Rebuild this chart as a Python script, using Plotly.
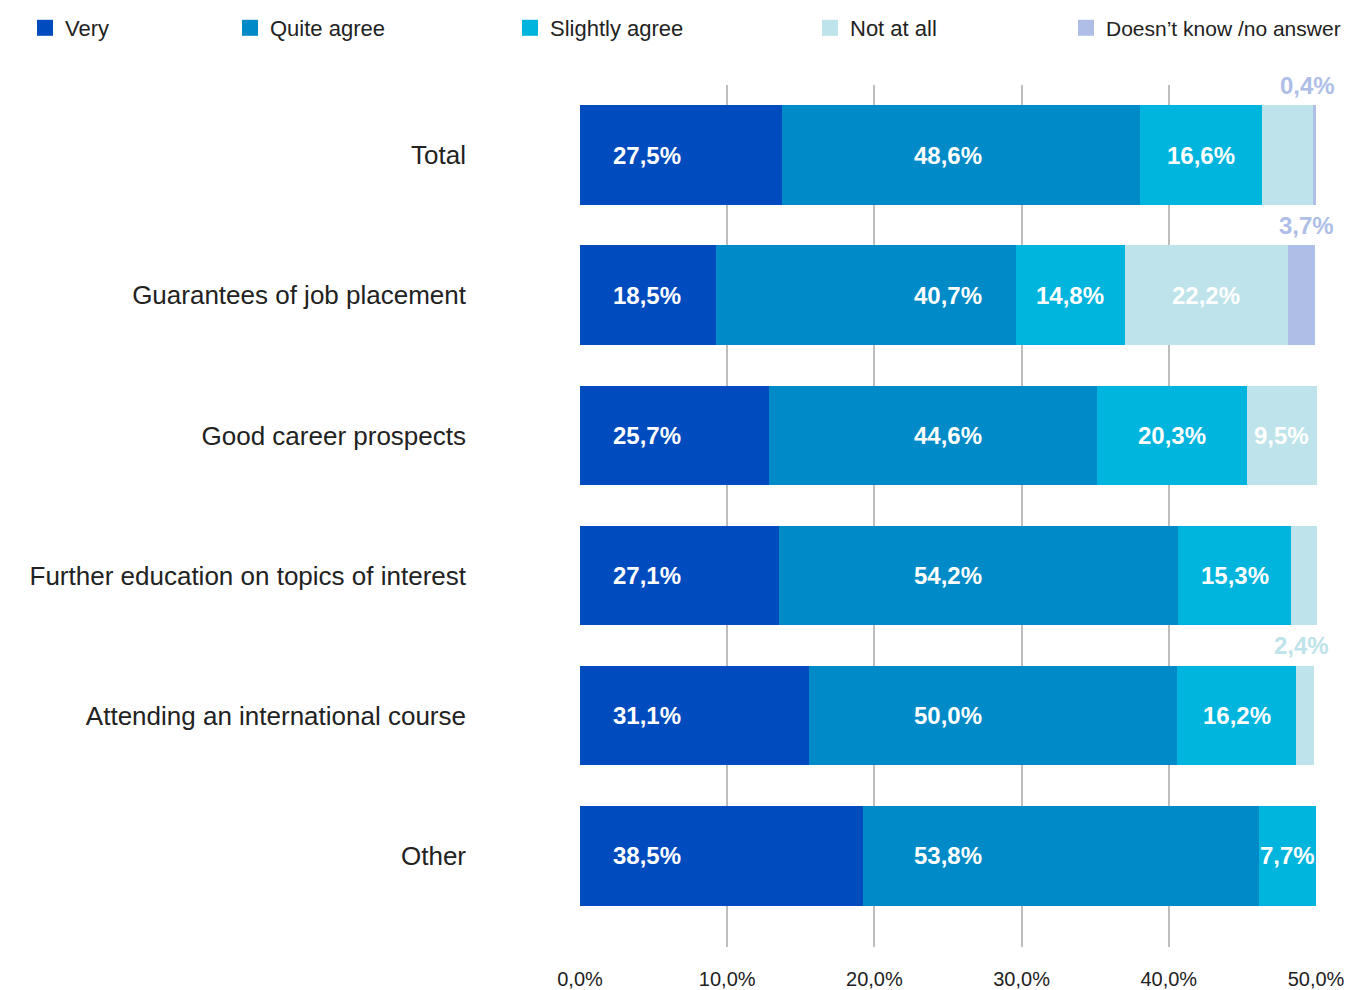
import plotly.graph_objects as go

categories = ["Total", "Guarantees of job placement", "Good career prospects",
              "Further education on topics of interest", "Attending an international course", "Other"]
series_names = ["Very", "Quite agree", "Slightly agree", "Not at all", "Doesn’t know /no answer"]
very = [27.5, 18.5, 25.7, 27.1, 31.1, 38.5]
quite_agree = [48.6, 40.7, 44.6, 54.2, 50.0, 53.8]
slightly_agree = [16.6, 14.8, 20.3, 15.3, 16.2, 7.7]
not_at_all = [6.9, 22.2, 9.5, 3.9, 2.4, 0.0]      # Total value estimated (unlabelled in source)
dont_know = [0.4, 3.7, 0.0, 0.0, 0.0, 0.0]
not_at_all_labelled = [False, True, True, True, True, False]
dont_know_labelled = [True, True, False, False, False, False]
tick_vals = [0, 20, 40, 60, 80, 100]
tick_text = ["0,0%", "10,0%", "20,0%", "30,0%", "40,0%", "50,0%"]

colors = ["#004BBE", "#008BC8", "#00B5DD", "#BEE3EA", "#AEBEE7"]
FONT = "Liberation Sans, Arial, sans-serif"
# the page body margin is removed by a post script, so figure pixels == page pixels
OFF = 0
W, H = 1348, 990
ML, MT = 579, 85
PW, PH = 738, 862
MR = W - ML - PW
MB = H - MT - PH
XPAD = 0.136  # one pixel of padding so the 0 and 100 gridlines are drawn

def fmt(v):
    return f"{v:.1f}".replace(".", ",") + "%"

data = [very, quite_agree, slightly_agree, not_at_all, dont_know]

fig = go.Figure()
for name, vals, col in zip(series_names, data, colors):
    fig.add_trace(go.Bar(y=categories, x=vals, orientation="h", name=name,
                         marker=dict(color=col, line=dict(width=0)),
                         showlegend=False, hoverinfo="x+y+name"))

# legend proxies, each in its own legend for free placement (page pixel of item start)
legend_left_px = [25, 230, 510, 810, 1066]
legend_sizes = [22, 22, 22, 22, 21]
legend_keys = ["legend", "legend2", "legend3", "legend4", "legend5"]
for name, col, key in zip(series_names, colors, legend_keys):
    fig.add_trace(go.Scatter(x=[None], y=[None], mode="markers", name=name,
                             marker=dict(symbol="square", size=16, color=col),
                             legend=key, showlegend=True, hoverinfo="skip"))

legend_layout = {}
for key, px, fs in zip(legend_keys, legend_left_px, legend_sizes):
    legend_layout[key] = dict(x=(px - OFF - ML) / PW, xanchor="left",
                              y=1 + (MT - (28 - OFF)) / PH, yanchor="middle",
                              orientation="h", bgcolor="rgba(0,0,0,0)",
                              font=dict(family=FONT, size=fs, color="#222222"))

LBL = 24
annotations = []
very_label_x = 9.1
quite_label_x = 50.0
for i, cat in enumerate(categories):
    annotations.append(dict(x=very_label_x, y=cat, text=f"<b>{fmt(very[i])}</b>", showarrow=False,
                            font=dict(family=FONT, size=LBL, color="white")))
    annotations.append(dict(x=quite_label_x, y=cat, text=f"<b>{fmt(quite_agree[i])}</b>", showarrow=False,
                            font=dict(family=FONT, size=LBL, color="white")))
    start = very[i] + quite_agree[i]
    annotations.append(dict(x=start + slightly_agree[i] / 2, y=cat, text=f"<b>{fmt(slightly_agree[i])}</b>",
                            showarrow=False, font=dict(family=FONT, size=LBL, color="white")))
    start += slightly_agree[i]
    if not_at_all_labelled[i]:
        if not_at_all[i] >= 5:
            annotations.append(dict(x=start + not_at_all[i] / 2, y=cat, text=f"<b>{fmt(not_at_all[i])}</b>",
                                    showarrow=False, font=dict(family=FONT, size=LBL, color="white")))
        else:
            annotations.append(dict(x=start + not_at_all[i], y=cat, text=f"<b>{fmt(not_at_all[i])}</b>",
                                    showarrow=False, xshift=-12, yshift=70,
                                    font=dict(family=FONT, size=LBL, color=colors[3])))
    start += not_at_all[i]
    if dont_know_labelled[i]:
        annotations.append(dict(x=start + dont_know[i], y=cat, text=f"<b>{fmt(dont_know[i])}</b>",
                                showarrow=False, xshift=-9, yshift=70,
                                font=dict(family=FONT, size=LBL, color=colors[4])))

fig.update_layout(
    width=W, height=H, barmode="stack", bargap=0.29,
    margin=dict(l=ML, r=MR, t=MT, b=MB, autoexpand=False),
    paper_bgcolor="white", plot_bgcolor="white",
    font=dict(family=FONT, color="#222222"),
    annotations=annotations,
    xaxis=dict(range=[-XPAD, 100 + XPAD], tickvals=tick_vals, ticktext=tick_text, showgrid=True,
               gridcolor="#BDBDBD", gridwidth=1.5, zeroline=False, showline=False,
               ticks="outside", ticklen=14, tickcolor="rgba(0,0,0,0)",
               tickfont=dict(family=FONT, size=20, color="#222222"), fixedrange=True),
    yaxis=dict(range=[5.65, -0.5], showgrid=False, zeroline=False, showline=False,
               ticks="", ticklabelstandoff=112,
               tickfont=dict(family=FONT, size=26, color="#222222"), fixedrange=True),
    **legend_layout,
)

fig.write_html("out.html", config={"displayModeBar": False},
               post_script="document.body.style.margin='0';document.body.style.overflow='hidden';")
